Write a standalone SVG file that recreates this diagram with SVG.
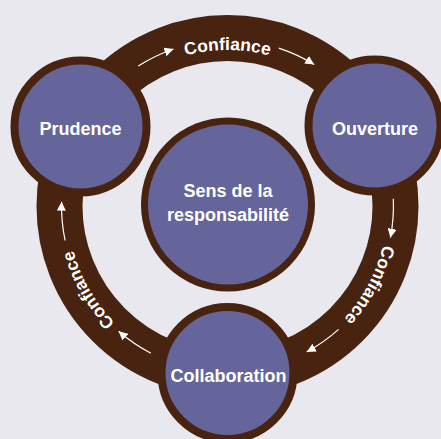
<svg xmlns="http://www.w3.org/2000/svg" width="441" height="439" viewBox="0 0 441 439">
  <style>
    .ring { fill: none; stroke: #472310; stroke-width: 46; }
    .node { fill: #66659b; stroke: #472310; stroke-width: 8; }
    .core { fill: #66659b; stroke: #472310; stroke-width: 7; }
    .label { font-family: "Liberation Sans", Arial, sans-serif; font-weight: bold; font-size: 18px; fill: #ffffff; text-anchor: middle; }
    .arc-label { font-family: "Liberation Sans", Arial, sans-serif; font-weight: bold; font-size: 17.5px; fill: #ffffff; }
    .flow { fill: none; stroke: #ffffff; stroke-width: 1.2; marker-end: url(#head); }
  </style>
  <defs>
    <marker id="head" markerUnits="userSpaceOnUse" markerWidth="10" markerHeight="9" refX="9" refY="4.5" orient="auto">
      <path d="M0,0 L9,4.5 L0,9 Z" fill="#ffffff"/>
    </marker>
    <!-- baselines for the curved labels (clockwise) -->
    <path id="arc-top" d="M125.0,87.3 A159.5,159.5 0 0 1 330.0,87.3"/>
    <path id="arc-right" d="M383.5,176.3 A159.5,159.5 0 0 1 287.3,357.4"/>
    <path id="arc-left" d="M172.9,359.4 A159.5,159.5 0 0 1 70.4,181.8"/>
  </defs>

  <rect width="441" height="439" fill="#e9e8ef"/>

  <!-- cycle ring, arrows and labels -->
  <g id="connectors">
    <circle class="ring" cx="227.5" cy="206" r="168"/>
    <path class="flow" d="M138.3,66.0 A166,166 0 0 1 173.5,49.0"/>
    <path class="flow" d="M278.8,48.1 A166,166 0 0 1 314.2,64.5"/>
    <path class="flow" d="M393.3,198.8 A166,166 0 0 1 390.4,237.7"/>
    <path class="flow" d="M338.6,329.4 A166,166 0 0 1 306.7,351.9"/>
    <path class="flow" d="M150.9,353.2 A166,166 0 0 1 118.6,331.3"/>
    <path class="flow" d="M65.1,240.5 A166,166 0 0 1 61.6,201.7"/>
    <text class="arc-label"><textPath href="#arc-top" startOffset="50%" text-anchor="middle">Confiance</textPath></text>
    <text class="arc-label"><textPath href="#arc-right" startOffset="50%" text-anchor="middle">Confiance</textPath></text>
    <text class="arc-label"><textPath href="#arc-left" startOffset="50%" text-anchor="middle">Confiance</textPath></text>
  </g>

  <g id="prudence">
    <circle class="node" cx="80.5" cy="126.5" r="66"/>
    <text class="label" x="80.5" y="135">Prudence</text>
  </g>

  <g id="ouverture">
    <circle class="node" cx="374.5" cy="125.5" r="66"/>
    <text class="label" x="375" y="135">Ouverture</text>
  </g>

  <g id="collaboration">
    <circle class="node" cx="227.5" cy="373" r="66"/>
    <text class="label" x="228.5" y="381.5">Collaboration</text>
  </g>

  <g id="responsabilite">
    <circle class="core" cx="228" cy="204.5" r="83.5"/>
    <text class="label" x="228" y="197.3">Sens de la</text>
    <text class="label" x="228" y="220.7">responsabilité</text>
  </g>
</svg>
